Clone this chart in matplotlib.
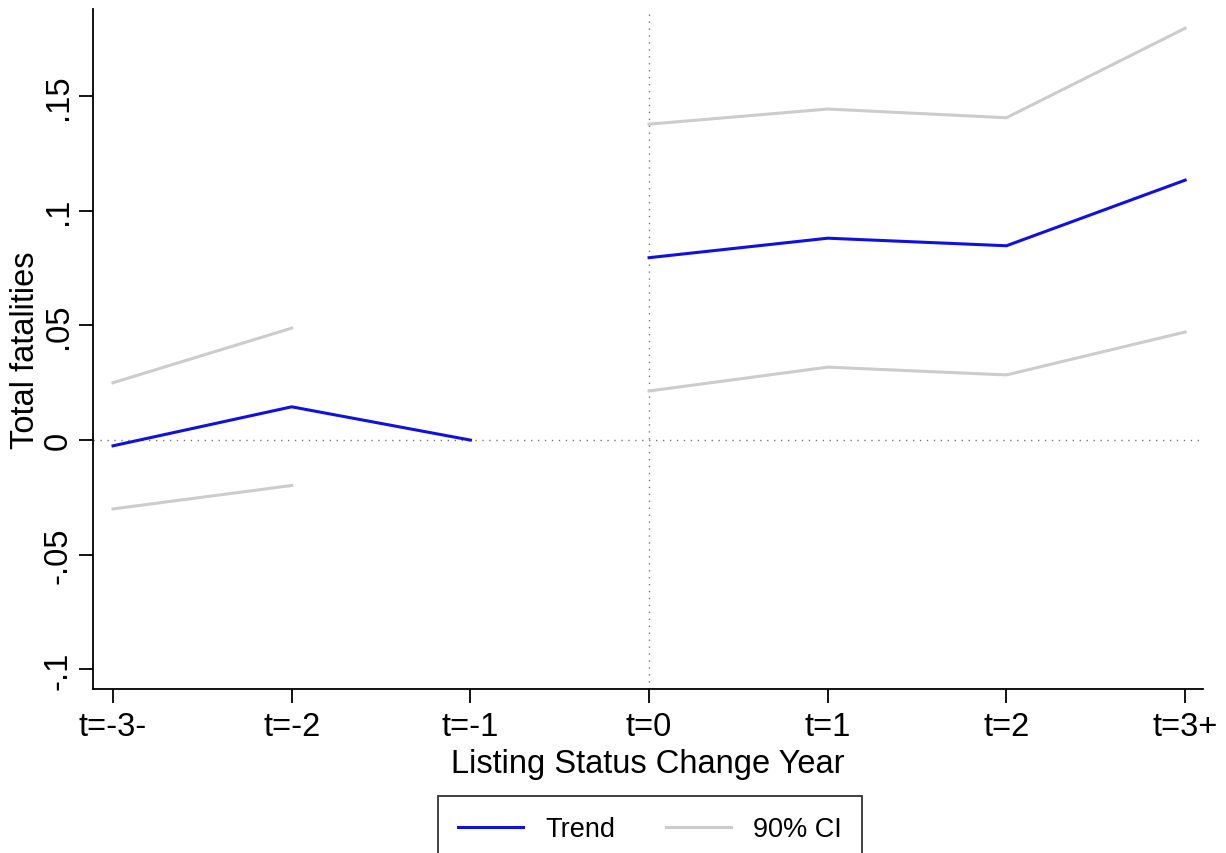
import matplotlib.pyplot as plt
from matplotlib.lines import Line2D

plt.rcParams['font.family'] = ['Liberation Sans', 'DejaVu Sans']

# event-time categories
periods = ['t=-3-', 't=-2', 't=-1', 't=0', 't=1', 't=2', 't=3+']

# pre-period (t=-3 .. t=-1) and post-period (t=0 .. t=3+) estimates
trend_pre = [-0.0025, 0.0145, 0.0]
trend_post = [0.0795, 0.088, 0.0847, 0.1133]

# 90% CI bounds (no CI drawn at the reference year t=-1)
ci_hi_pre = [0.0250, 0.0488]
ci_lo_pre = [-0.0300, -0.0198]
ci_hi_post = [0.1377, 0.1443, 0.1405, 0.1795]
ci_lo_post = [0.0214, 0.0318, 0.0284, 0.0471]

yticks = [-0.1, -0.05, 0, 0.05, 0.1, 0.15]
ytick_labels = ['-.1', '-.05', '0', '.05', '.1', '.15']

blue = '#1010e0'
grey = '#cccccc'

fig = plt.figure(figsize=(12.26, 8.54), dpi=100)
ax = fig.add_axes([93 / 1226, 1 - 690 / 854, (1203 - 93) / 1226, (690 - 10) / 854])

x_pre = list(range(0, 3))
x_post = list(range(3, 7))

# reference lines
ax.axhline(0, color='#777777', lw=1, ls=(0, (1, 4)), zorder=1)
ax.axvline(3, color='#777777', lw=1, ls=(0, (1, 4)), zorder=1)

ax.plot(x_pre[:2], ci_hi_pre, color=grey, lw=2.2)
ax.plot(x_pre[:2], ci_lo_pre, color=grey, lw=2.2)
ax.plot(x_post, ci_hi_post, color=grey, lw=2.2)
ax.plot(x_post, ci_lo_post, color=grey, lw=2.2)
ax.plot(x_pre, trend_pre, color=blue, lw=2.2)
ax.plot(x_post, trend_post, color=blue, lw=2.2)

ax.set_xlim(-0.112, 6.1)
ax.set_ylim(-0.1085, 0.1879)

ax.set_xticks(range(len(periods)))
ax.set_xticklabels(periods, fontsize=23.5)
ax.set_yticks(yticks)
ax.set_yticklabels(ytick_labels, fontsize=23.5, rotation=90, va='center')
ax.tick_params(axis='x', length=10, width=1.3, pad=6)
ax.tick_params(axis='y', length=10, width=1.3, pad=4)

ax.spines['top'].set_visible(False)
ax.spines['right'].set_visible(False)
ax.spines['left'].set_linewidth(1.3)
ax.spines['bottom'].set_linewidth(1.3)

ax.set_xlabel('Listing Status Change Year', fontsize=23.5, labelpad=4)
ax.set_ylabel('Total fatalities', fontsize=23.5, labelpad=1)

handles = [Line2D([], [], color=blue, lw=2.2), Line2D([], [], color=grey, lw=2.2)]
leg = fig.legend(handles, ['Trend', '90% CI'], loc='upper center',
                 bbox_to_anchor=(650 / 1226, 1 - 797 / 854), ncol=2,
                 fontsize=19.5, frameon=True, fancybox=False, edgecolor='black',
                 handlelength=2.4, handletextpad=0.8, columnspacing=1.9,
                 borderpad=0.75, borderaxespad=0)
leg.get_frame().set_linewidth(1.3)

fig.savefig('out.png', dpi=100)
